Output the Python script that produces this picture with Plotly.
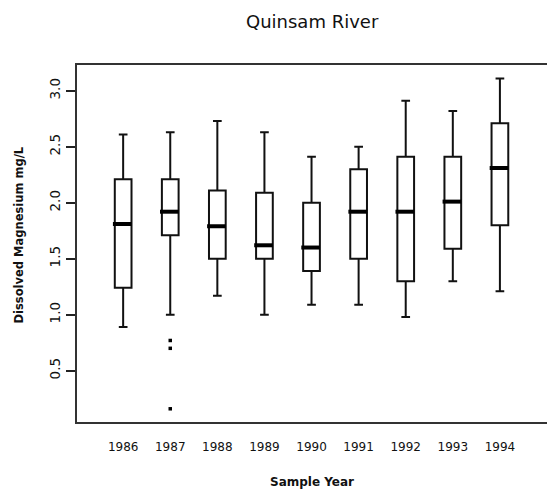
import plotly.graph_objects as go

# Sample years and summary statistics of dissolved magnesium (mg/L)
years = ["1986", "1987", "1988", "1989", "1990", "1991", "1992", "1993", "1994"]
lower_whisker = [0.89, 1.00, 1.17, 1.00, 1.09, 1.09, 0.98, 1.30, 1.21]
q1 = [1.24, 1.71, 1.50, 1.50, 1.39, 1.50, 1.30, 1.59, 1.80]
median = [1.81, 1.92, 1.79, 1.62, 1.60, 1.92, 1.92, 2.01, 2.31]
q3 = [2.21, 2.21, 2.11, 2.09, 2.00, 2.30, 2.41, 2.41, 2.71]
upper_whisker = [2.61, 2.63, 2.73, 2.63, 2.41, 2.50, 2.91, 2.82, 3.11]

# Outlying observations
outlier_years = ["1987", "1987", "1987"]
outlier_values = [0.77, 0.70, 0.16]

y_ticks = [0.5, 1.0, 1.5, 2.0, 2.5, 3.0]

pos = list(range(1, len(years) + 1))
pos_of = {y: p for y, p in zip(years, pos)}
box_w = 0.355

fig = go.Figure()

fig.add_trace(go.Box(
    x=pos,
    q1=q1,
    median=median,
    q3=q3,
    lowerfence=lower_whisker,
    upperfence=upper_whisker,
    width=box_w,
    whiskerwidth=0.52,
    fillcolor="white",
    line=dict(color="#111111", width=2),
    boxpoints=False,
    hoverinfo="skip",
    showlegend=False,
))

# Heavier median bars
mx, my = [], []
for p, m in zip(pos, median):
    mx += [p - box_w / 2 - 0.04, p + box_w / 2, None]
    my += [m, m, None]
fig.add_trace(go.Scatter(
    x=mx, y=my, mode="lines",
    line=dict(color="#000000", width=4),
    hoverinfo="skip", showlegend=False,
))

fig.add_trace(go.Scatter(
    x=[pos_of[y] for y in outlier_years],
    y=outlier_values,
    mode="markers",
    marker=dict(symbol="square", size=3.5, color="#000000"),
    hoverinfo="skip", showlegend=False,
))

fig.update_layout(
    width=547,
    height=491,
    margin=dict(l=77, r=0, t=65, b=69),
    paper_bgcolor="white",
    plot_bgcolor="white",
    font=dict(family="DejaVu Sans", color="#111111"),
    xaxis=dict(
        range=[0.02, 10.0],
        tickvals=pos,
        ticktext=years,
        ticks="",
        showgrid=False,
        zeroline=False,
        showline=True,
        mirror=True,
        linecolor="#333333",
        linewidth=2,
        tickfont=dict(size=12),
        ticklabelstandoff=13,
    ),
    yaxis=dict(
        range=[0.042, 3.23],
        tickvals=y_ticks,
        ticktext=[f"{v:.1f}" for v in y_ticks],
        tickangle=-90,
        ticks="outside",
        ticklen=9,
        tickwidth=1.5,
        tickcolor="#222222",
        showgrid=False,
        zeroline=False,
        showline=True,
        linecolor="#333333",
        linewidth=2,
        tickfont=dict(size=13.5),
        ticklabelstandoff=1,
    ),
    annotations=[
        dict(text="Quinsam River", xref="paper", yref="paper",
             x=0.5, y=1, yshift=44, xanchor="center", yanchor="middle",
             showarrow=False, font=dict(size=18, color="#111111")),
        dict(text="Sample Year", xref="paper", yref="paper",
             x=0.5, y=0, yshift=-60, xanchor="center", yanchor="middle",
             showarrow=False, font=dict(size=12, color="#111111", weight="bold")),
        dict(text="Dissolved Magnesium mg/L", xref="paper", yref="paper",
             x=0, xshift=-59, y=0.5, yshift=8, textangle=-90,
             xanchor="center", yanchor="middle",
             showarrow=False, font=dict(size=11.5, color="#111111", weight="bold")),
    ],
)

fig.write_html("out.html")
